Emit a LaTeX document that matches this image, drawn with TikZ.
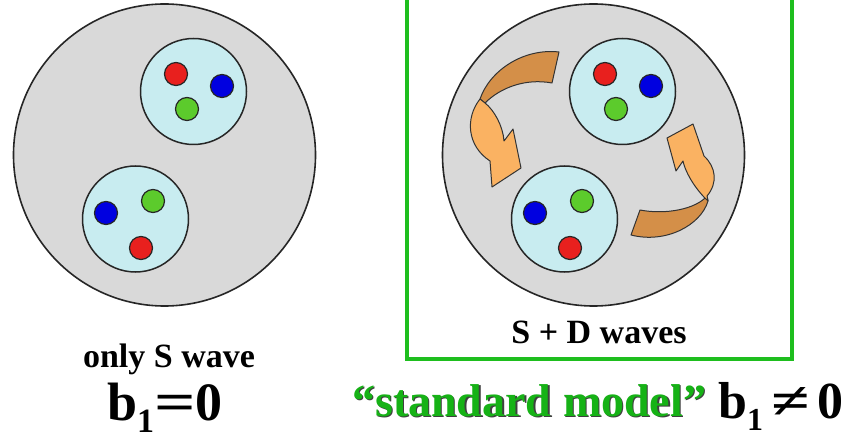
\documentclass[tikz,border=0pt]{standalone}
\usepackage{fontspec}
\setmainfont{Liberation Serif}
\usepackage{graphicx}

\definecolor{nucgray}{RGB}{217,217,217}
\definecolor{nuccyan}{RGB}{200,236,240}
\definecolor{qred}{RGB}{232,32,30}
\definecolor{qblue}{RGB}{0,0,224}
\definecolor{qgreen}{RGB}{92,203,44}
\definecolor{arrowlight}{RGB}{250,178,98}
\definecolor{arrowdark}{RGB}{212,143,72}
\definecolor{boxgreen}{RGB}{30,190,30}
\definecolor{smgreen}{RGB}{22,178,22}

\newcommand{\lowone}[1]{\raisebox{-0.24em}{\fontsize{#1}{#1}\selectfont 1}}
\newcommand{\wide}[1]{\scalebox{1.35}[1]{#1}}

\tikzset{
  nucleus/.style={draw=black!85, line width=1.6pt, fill=nucgray},
  nucleon/.style={draw=black!85, line width=1.5pt, fill=nuccyan},
  quark/.style={draw=black!85, line width=1.2pt},
  twistfront/.style={fill=arrowlight, draw=black!80, line width=1pt, line join=round},
  twistback/.style={fill=arrowdark, draw=black!80, line width=1pt, line join=round},
  wavetext/.style={font=\bfseries\fontsize{34}{36}\selectfont, inner sep=0pt, anchor=base},
  bigtext/.style={font=\bfseries\fontsize{#1}{#1}\selectfont, inner sep=0pt, anchor=base},
  bigtext/.default=54
}

\begin{document}
\begin{tikzpicture}[x=1pt,y=-1pt]
\useasboundingbox (0,0) rectangle (867,438);
\clip (0,0) rectangle (867,438);
\fill[white] (0,0) rectangle (867,438);

\draw[boxgreen, line width=4.5pt] (407,-10) rectangle (792,359);

\foreach \dx in {0,429} {
  \draw[nucleus] (164.5+\dx,155) circle (151);
  \draw[nucleon] (193.5+\dx,91.5) circle (53);
  \draw[nucleon] (135.5+\dx,219) circle (53);
  \draw[quark,fill=qred] (176+\dx,74) circle (11.5);
  \draw[quark,fill=qblue] (222+\dx,86) circle (11.5);
  \draw[quark,fill=qgreen] (187+\dx,109) circle (11.5);
  \draw[quark,fill=qblue] (106+\dx,213) circle (11.5);
  \draw[quark,fill=qgreen] (153+\dx,201) circle (11.5);
  \draw[quark,fill=qred] (141+\dx,248) circle (11.5);
}

\draw[twistback] (559,52) .. controls (524,48) and (490,70) .. (480,99)
  -- (485,103) .. controls (500,88) and (525,78) .. (552,83) -- cycle;
\draw[twistfront] (480,99) .. controls (465,118) and (467,146) .. (490,161)
  -- (492,187) -- (521,168) -- (513,129) -- (504,141)
  .. controls (503,126) and (494,110) .. (485,103) -- cycle;

\draw[twistback] (640,210) .. controls (666,215) and (696,209) .. (707,196)
  -- (708,201) .. controls (701,225) and (666,244) .. (631,235) -- cycle;
\draw[twistfront] (707,196) .. controls (718,183) and (716,167) .. (704,156)
  -- (693,124) -- (667,138) -- (676,171) -- (683,161)
  .. controls (686,175) and (698,192) .. (708,201) -- cycle;

\node[wavetext] (onlys) at (169,367) {only S wave};
\node[wavetext] (sdwaves) at (599,343) {S + D waves};

\node[bigtext] (bzero) at (165,420) {b\lowone{34}\wide{=}0};

\node[bigtext=46, anchor=base west, text=black!75] (smshadow) at (353.5,417.5) {“standard model”};
\node[bigtext=46, anchor=base west, text=smgreen] (sm) at (352,416) {“standard model”};
\node[bigtext=52, anchor=base west] (bneq) at (718,418) {b\lowone{32}\hspace{8pt}\wide{≠}\hspace{8pt}0};
\end{tikzpicture}
\end{document}
